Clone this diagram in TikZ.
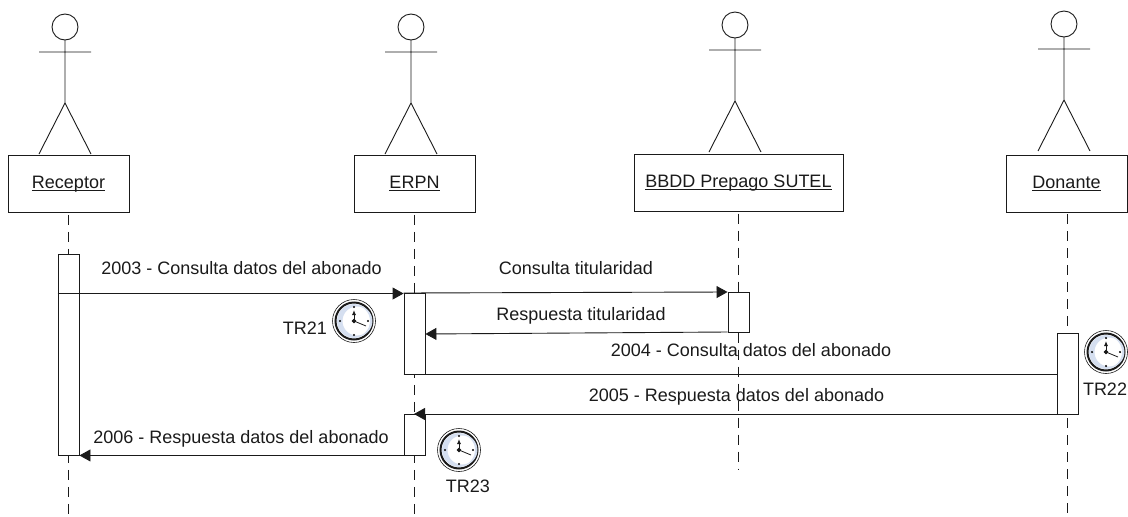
\documentclass[tikz,border=0pt]{standalone}
\usepackage{fontspec}
\setmainfont{Liberation Sans}
\usetikzlibrary{arrows.meta}
\definecolor{ink}{HTML}{1A1A1A}
\definecolor{moon}{HTML}{D5DFF0}
\tikzset{
  x=1pt,y=-1pt,
  every path/.style={line width=0.9pt,draw=ink},
  lbl/.style={font=\fontsize{18}{20}\selectfont,text=ink,inner sep=0pt,draw=none},
  headbox/.style={draw=ink,fill=white,minimum height=57pt,inner sep=0pt,font=\fontsize{18}{20}\selectfont,text=ink},
  bar/.style={draw=ink,fill=white,minimum width=21pt,inner sep=0pt},
  life/.style={dash pattern=on 10pt off 7pt},
  msg/.style={-{Triangle[length=11pt,width=12pt]}},
  pics/actor/.style={code={
    \draw (0,-129) circle (13);
    \draw (0,-116) -- (0,-53) (-26,-104) -- (26,-104) (-26,-2) -- (0,-53) -- (26,-2);
  }},
  pics/clock/.style={code={
    \draw[line width=0.6pt,fill=white] (0,0) circle (21.5);
    \draw[line width=2pt,fill=white] (0,0) circle (18.5);
    \fill[moon,even odd rule] (0,0) circle (16.5) (3,0) circle (15);
    \fill[ink] (0,-14) circle (.6) (0,14) circle (.6) (-14,0) circle (.6) (14,0) circle (.6);
    \draw[line width=.9pt,-{Latex[length=5pt,width=4pt]}] (0,1) -- (0,-11);
    \draw[line width=.8pt] (0,0) -- (12,5);
    \fill[ink] (0,0) circle (1.8);
  }}
}
\newcommand{\ul}[1]{\setbox0=\hbox{#1}\leavevmode\rlap{\color{ink}\raisebox{-2.4pt}{\rule{\wd0}{0.9pt}}}\box0}
\begin{document}
\begin{tikzpicture}
\useasboundingbox[draw=none] (0,0) rectangle (1128,517);
% lifelines
\coordinate (endR) at (68,517);
\coordinate (endE) at (414,517);
\coordinate (endB) at (738,470);
\coordinate (endD) at (1067,517);
\node[headbox,minimum width=121pt] (R) at (68.5,184) {\ul{Receptor}};
\node[headbox,minimum width=121pt] (E) at (414.5,184) {\ul{ERPN}};
\node[headbox,minimum width=209pt] (B) at (738.5,182.7) {\ul{BBDD Prepago SUTEL}};
\node[headbox,minimum width=121pt] (D) at (1066.5,183.5) {\ul{Donante}};
\draw[life] (R.south -| endR) ++(0,2) -- (endR);
\draw[life] (E.south -| endE) ++(0,2) -- (endE);
\draw[life] (B.south -| endB) ++(0,2) -- (endB);
\draw[life] (D.south -| endD) ++(0,2) -- (endD);
% actors
\pic at (65,156) {actor};
\pic at (411,156) {actor};
\pic at (735,154) {actor};
\pic at (1064,153) {actor};
% activations
\node[bar,minimum height=201pt] (aR) at (68.5,354.5) {};
\node[bar,minimum height=81pt] (aE1) at (414.5,333.5) {};
\node[bar,minimum height=41pt] (aE2) at (414.5,434.5) {};
\node[bar,minimum height=40pt] (aB) at (738.5,312) {};
\node[bar,minimum height=81pt] (aD) at (1067.5,373.5) {};
% messages
\draw[msg] (aR.west |- 0,293.5) -- (aE1.west |- 0,293.5);
\draw[msg] (aE1.west |- 0,293) -- (aB.west |- 0,292);
\draw[msg] (aB.west |- 0,332) -- (aE1.east |- 0,334);
\draw (aE1.west |- 0,374) -- (aD.west |- 0,374);
\draw[msg] (aD.west |- 0,414) -- (endE |- 0,414);
\draw[msg] (aE2.south west) -- (aR.south east);
% labels
\node[lbl] (l1) at (241.5,268) {2003 - Consulta datos del abonado};
\node[lbl] (l2) at (576,268) {Consulta titularidad};
\node[lbl] (l3) at (581,316) {Respuesta titularidad};
\node[lbl] (l4) at (751,350) {2004 - Consulta datos del abonado};
\node[lbl] (l5) at (736.5,397) {2005 - Respuesta datos del abonado};
\node[lbl] (l6) at (241,439) {2006 - Respuesta datos del abonado};
\node[lbl] (t1) at (305,328) {TR21};
\node[lbl] (t2) at (1105,389) {TR22};
\node[lbl] (t3) at (468,486) {TR23};
% clocks
\pic at (354,321) {clock};
\pic at (1106,352) {clock};
\pic at (459,450) {clock};
\end{tikzpicture}
\end{document}
